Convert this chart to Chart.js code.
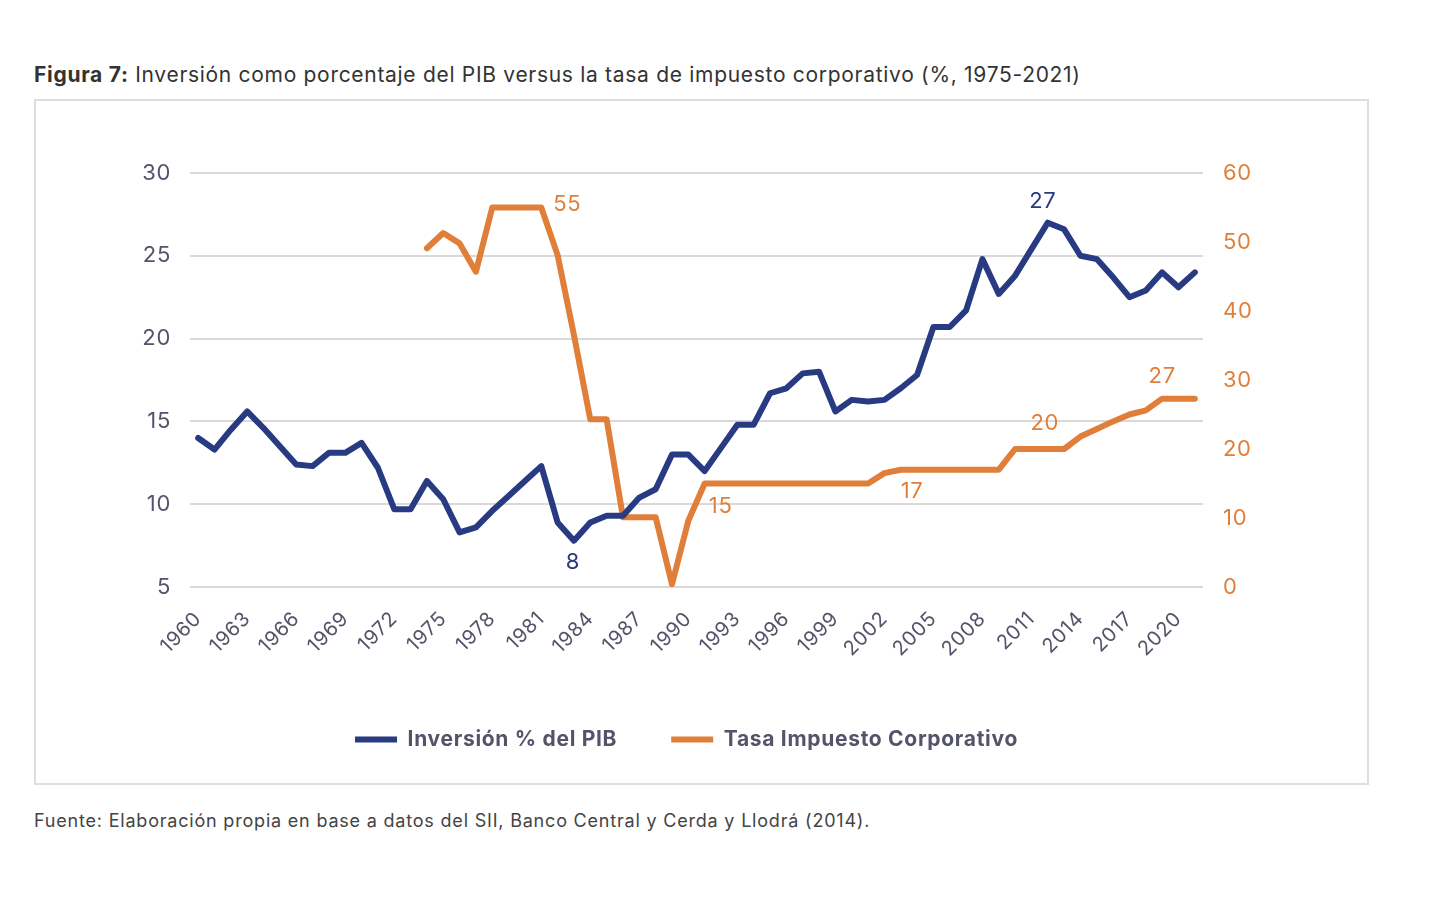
<!DOCTYPE html>
<html lang="es">
<head>
<meta charset="utf-8">
<script src="https://cdn.jsdelivr.net/npm/chart.js@4.4.1/dist/chart.umd.min.js"></script>
<style>
  body { margin: 0; background: #fff; font-family: Inter, "Noto Sans", sans-serif; }
  .title { position: absolute; left: 34px; top: 62px; font-size: 21px; letter-spacing: 0.7px; color: #333; white-space: nowrap; }
  .title b { font-weight: 700; }
  .box { position: absolute; left: 34px; top: 99px; width: 1335px; height: 686px; border: 2px solid #dedede; box-sizing: border-box; }
  .box canvas { position: absolute; left: 0; top: 0; }
  .source { position: absolute; left: 34px; top: 810px; font-size: 18px; letter-spacing: 0.8px; color: #444; white-space: nowrap; }
</style>
</head>
<body>
<div class="title"><b>Figura 7:</b> Inversión como porcentaje del PIB versus la tasa de impuesto corporativo (%, 1975-2021)</div>
<div class="box"><canvas id="chart" width="1331" height="682"></canvas></div>
<div class="source">Fuente: Elaboración propia en base a datos del SII, Banco Central y Cerda y Llodrá (2014).</div>
<script>
// Años 1960-2021
const years = [];
for (let y = 1960; y <= 2021; y++) years.push(String(y));

// Inversión % del PIB (eje izquierdo)
const inversion = [
  14.0, 13.3, 14.5, 15.6, 14.6, 13.5, 12.4, 12.3, 13.1, 13.1,
  13.7, 12.2, 9.7, 9.7, 11.4, 10.3, 8.3, 8.6, 9.6, 10.5,
  11.4, 12.3, 8.9, 7.8, 8.9, 9.3, 9.3, 10.4, 10.9, 13.0,
  13.0, 12.0, 13.4, 14.8, 14.8, 16.7, 17.0, 17.9, 18.0, 15.6,
  16.3, 16.2, 16.3, 17.0, 17.8, 20.7, 20.7, 21.7, 24.8, 22.7,
  23.8, 25.4, 27.0, 26.6, 25.0, 24.8, 23.7, 22.5, 22.9, 24.0,
  23.1, 24.0
];

// Tasa impuesto corporativo (eje derecho), desde 1974
const tasa = [
  null, null, null, null, null, null, null, null, null, null,
  null, null, null, null, 49.1, 51.3, 49.8, 45.7, 55, 55,
  55, 55, 48.1, 36.5, 24.3, 24.3, 10.1, 10.1, 10.1, 0.4,
  9.6, 15, 15, 15, 15, 15, 15, 15, 15, 15,
  15, 15, 16.5, 17, 17, 17, 17, 17, 17, 17,
  20, 20, 20, 20, 21.8, 22.9, 24.0, 25.0, 25.6, 27.3,
  27.3, 27.3
];

const leftTicks = [5, 10, 15, 20, 25, 30];
const rightTicks = [0, 10, 20, 30, 40, 50, 60];

// Etiquetas sobre la línea: año, serie, texto
const annYears = ['2012', '1983', '1981', '1991', '2004', '2012', '2019'];
const annSeries = [0, 0, 1, 1, 1, 1, 1];
const annText = ['27', '8', '55', '15', '17', '20', '27'];
const annOffset = [[-5, -21], [-1, 22], [26, -3], [16, 23], [-5, 22], [-3, -26], [0, -22]];

const BLUE = '#283b82';
const ORANGE = '#e07f3a';
const FONT = 'Inter, "Noto Sans", sans-serif';

// Espaciado de letras en el canvas (la fuente original es más ancha)
const spacingPlugin = {
  id: 'spacing',
  beforeUpdate(chart) { chart.ctx.letterSpacing = '0.7px'; },
  beforeDraw(chart) { chart.ctx.letterSpacing = '0.7px'; }
};

const annotationPlugin = {
  id: 'valueLabels',
  afterDatasetsDraw(chart) {
    const ctx = chart.ctx;
    ctx.save();
    ctx.font = '22px ' + FONT;
    ctx.textAlign = 'center';
    ctx.textBaseline = 'middle';
    annYears.forEach((yr, i) => {
      const idx = years.indexOf(yr);
      const ds = chart.data.datasets[annSeries[i]];
      const yScale = chart.scales[ds.yAxisID];
      const x = chart.scales.x.getPixelForValue(idx);
      const y = yScale.getPixelForValue(ds.data[idx]);
      ctx.fillStyle = ds.borderColor;
      ctx.fillText(annText[i], x + annOffset[i][0], y + annOffset[i][1]);
    });
    ctx.restore();
  }
};

const ctx = document.getElementById('chart').getContext('2d');
new Chart(ctx, {
  type: 'line',
  data: {
    labels: years,
    datasets: [{
      label: 'Inversión % del PIB',
      data: inversion,
      yAxisID: 'y',
      borderColor: BLUE,
      backgroundColor: BLUE,
      borderWidth: 6,
      borderCapStyle: 'round',
      borderJoinStyle: 'round',
      pointRadius: 0,
      tension: 0
    }, {
      label: 'Tasa Impuesto Corporativo',
      data: tasa,
      yAxisID: 'y1',
      borderColor: ORANGE,
      backgroundColor: ORANGE,
      borderWidth: 6,
      borderCapStyle: 'round',
      borderJoinStyle: 'round',
      pointRadius: 0,
      tension: 0
    }]
  },
  options: {
    responsive: false,
    animation: false,
    devicePixelRatio: 1,
    layout: { padding: { top: 72, left: 0, right: 30, bottom: 23 } },
    plugins: {
      legend: {
        position: 'bottom',
        labels: {
          usePointStyle: true,
          pointStyleWidth: 42,
          pointStyle: 'line',
          padding: 54,
          color: '#53546a',
          font: { family: FONT, size: 21, weight: 'bold' }
        }
      },
      tooltip: { enabled: false }
    },
    scales: {
      x: {
        offset: true,
        grid: { display: false },
        border: { display: false },
        ticks: {
          autoSkip: false,
          maxRotation: 45,
          minRotation: 45,
          padding: 12,
          color: '#53546a',
          font: { family: FONT, size: 20 },
          callback: function(val, i) {
            return (i % 3 === 0) ? years[i] : '';
          }
        },
        afterFit: function(scale) { scale.height = 88; }
      },
      y: {
        position: 'left',
        min: 5,
        max: 30,
        grid: { color: '#d9d9d9', lineWidth: 2, drawTicks: false },
        border: { display: false },
        afterBuildTicks: function(scale) { scale.ticks = leftTicks.map(v => ({ value: v })); },
        ticks: { padding: 19, color: '#53546a', font: { family: FONT, size: 22 } },
        afterFit: function(scale) { scale.width = 154; }
      },
      y1: {
        position: 'right',
        min: 0,
        max: 60,
        grid: { display: false, drawTicks: false },
        border: { display: false },
        afterBuildTicks: function(scale) { scale.ticks = rightTicks.map(v => ({ value: v })); },
        ticks: { padding: 20, color: ORANGE, font: { family: FONT, size: 22 } },
        afterFit: function(scale) { scale.width = 134; }
      }
    }
  },
  plugins: [spacingPlugin, annotationPlugin]
});
</script>
</body>
</html>
